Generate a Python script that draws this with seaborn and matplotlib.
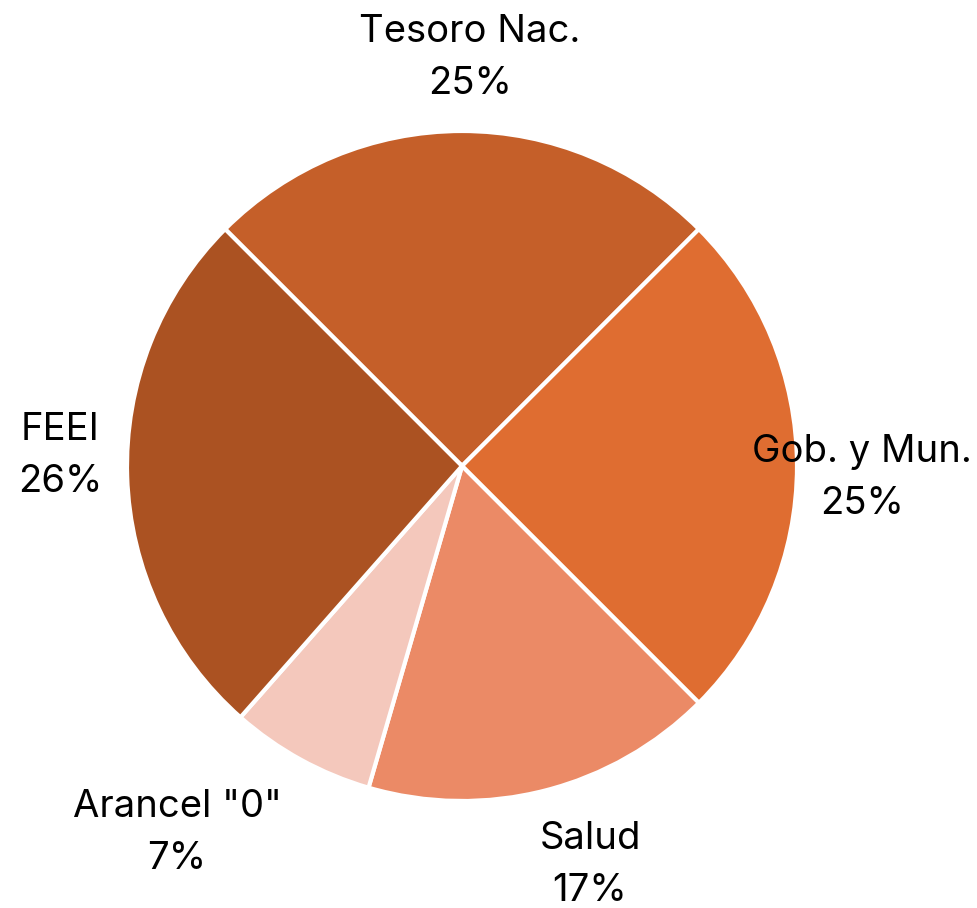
import matplotlib
matplotlib.use("Agg")
import matplotlib.pyplot as plt
import seaborn as sns

# Distribution by destination
categories = ["Tesoro Nac.", "Gob. y Mun.", "Salud", 'Arancel "0"', "FEEI"]
shares = [25, 25, 17, 7, 26]
colors = ["#C55F29", "#DF6D31", "#EB8A66", "#F4C8BC", "#AB5222"]

sns.set_theme(style="white")
plt.rcParams["font.family"] = ["Inter", "DejaVu Sans"]

W, H, DPI = 977, 908, 100
CX, CY, R = 462, 466, 335  # pie centre and radius in pixels

fig = plt.figure(figsize=(W / DPI, H / DPI), dpi=DPI)
ax = fig.add_axes([0, 0, 1, 1])

ax.pie(shares, colors=colors, startangle=135, counterclock=False,
       radius=1.0, wedgeprops=dict(edgecolor="white", linewidth=3))

ax.set_xlim(-CX / R, (W - CX) / R)
ax.set_ylim(-(H - CY) / R, CY / R)
ax.set_aspect("equal")
ax.axis("off")

# label anchor points (pixel coordinates of each text block centre)
label_px = [(470, 58), (862, 478), (590, 865), (177, 833), (60, 456)]
for name, val, (px, py) in zip(categories, shares, label_px):
    ax.text((px - CX) / R, (CY - py) / R, f"{name}\n{val}%",
            ha="center", va="center", fontsize=27.5, color="black",
            linespacing=1.58)

fig.savefig("out.png", dpi=DPI)
